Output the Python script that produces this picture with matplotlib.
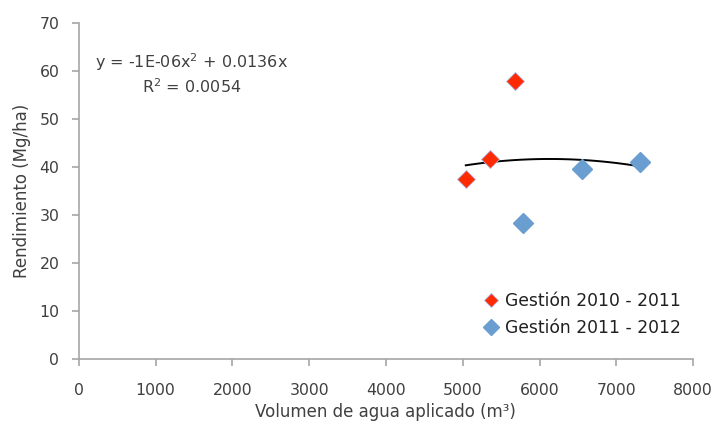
import numpy as np
import matplotlib
matplotlib.use("Agg")
import matplotlib.pyplot as plt

plt.rcParams['font.family'] = ['DejaVu Sans']

# datos
vol_2010 = [5040, 5355, 5685]
rend_2010 = [37.5, 41.6, 57.9]
vol_2011 = [5790, 6550, 7310]
rend_2011 = [28.3, 39.6, 41.0]

label_2010 = "Gestión 2010 - 2011"
label_2011 = "Gestión 2011 - 2012"
ecuacion = "y = -1E-06x$^2$ + 0.0136x"
r2_text = "R$^2$ = 0.0054"

# ajuste polinomico de orden 2 sin intercepto (linea de tendencia)
x_all = np.array(vol_2010 + vol_2011, dtype=float)
y_all = np.array(rend_2010 + rend_2011, dtype=float)
A = np.column_stack([x_all ** 2, x_all])
coef, *_ = np.linalg.lstsq(A, y_all, rcond=None)
xs = np.linspace(x_all.min(), x_all.max(), 100)
ys = coef[0] * xs ** 2 + coef[1] * xs

txt = "#404040"
gris = "#A6A6A6"

fig = plt.figure(figsize=(7.16, 4.26), dpi=100)
ax = fig.add_axes([0.110, 0.1566, 0.858, 0.790])

ax.plot(xs, ys, color="black", lw=1.4, zorder=2)
ax.plot(vol_2010, rend_2010, "D", color="#FF2A00", ms=9, mec="#B0B0E0", mew=0.6,
        ls="none", label=label_2010, zorder=3)
ax.plot(vol_2011, rend_2011, "D", color="#6A9ED0", ms=10.5, mec="#6A9ED0",
        ls="none", label=label_2011, zorder=3)

ax.set_xlim(0, 8000)
ax.set_ylim(0, 70)
ax.set_xticks(range(0, 8001, 1000))
ax.set_yticks(range(0, 71, 10))

for s in ["top", "right"]:
    ax.spines[s].set_visible(False)
for s in ["left", "bottom"]:
    ax.spines[s].set_color(gris)
    ax.spines[s].set_linewidth(1.2)
ax.tick_params(colors=gris, labelcolor=txt, labelsize=11.3, length=5, width=1.2)
ax.tick_params(axis="x", pad=12)
ax.tick_params(axis="y", pad=9)

ax.set_xlabel("Volumen de agua aplicado (m³)", fontsize=12, color=txt, labelpad=4)
ax.set_ylabel("Rendimiento (Mg/ha)", fontsize=12, color=txt, labelpad=6)

ax.text(1470, 61.8, ecuacion, ha="center", va="center", fontsize=11.5, color=txt)
ax.text(1470, 56.7, r2_text, ha="center", va="center", fontsize=11.5, color=txt)

ax.legend(loc="lower right", bbox_to_anchor=(1.0, 0.03), frameon=False, fontsize=12.3,
          handletextpad=0.25, labelspacing=0.55, handlelength=1.2, markerscale=0.8,
          borderpad=0.2, labelcolor="#202020")

fig.savefig("out.png", dpi=100)
